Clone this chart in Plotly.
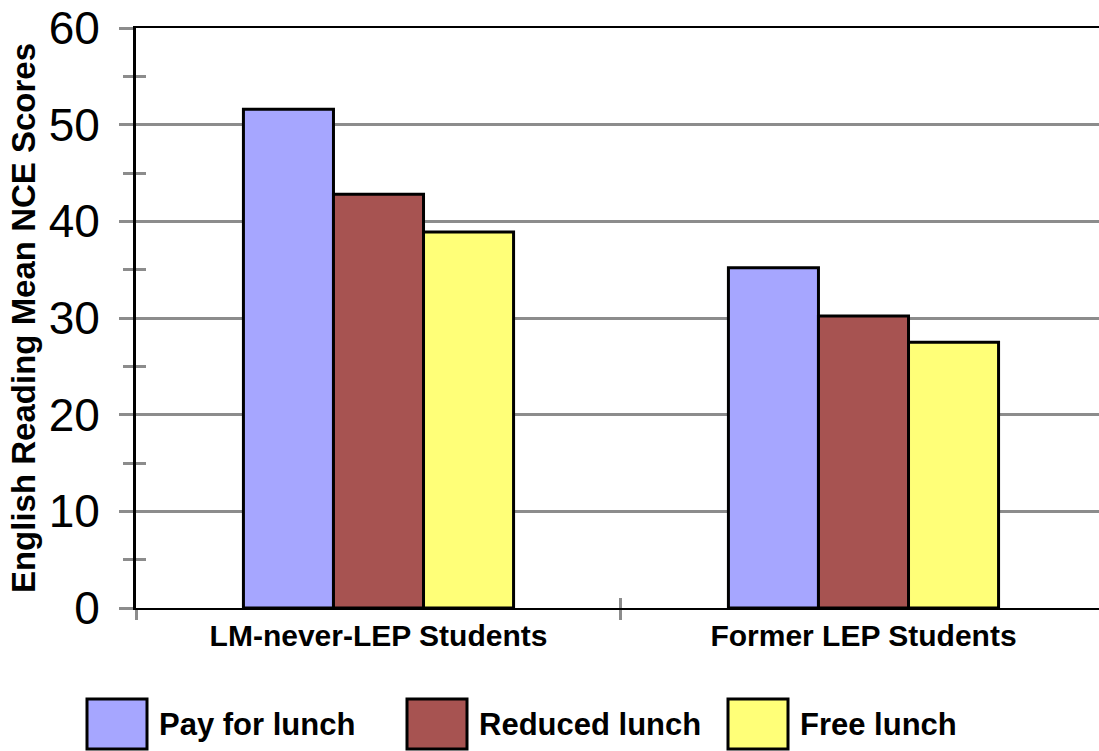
import plotly.graph_objects as go

grupper = ["LM-never-LEP Students", "Former LEP Students"]
serier = ["Pay for lunch", "Reduced lunch", "Free lunch"]
verdier_pay = [51.6, 35.2]
verdier_redusert = [42.8, 30.2]
verdier_gratis = [38.9, 27.5]
y_ticks = [0, 10, 20, 30, 40, 50, 60]

farger = ["#a6a6ff", "#a75351", "#ffff78"]
font_familie = "Liberation Sans, Arial, sans-serif"

fig = go.Figure()

for navn, verdier, farge in zip(serier, [verdier_pay, verdier_redusert, verdier_gratis], farger):
    fig.add_trace(
        go.Bar(
            x=grupper,
            y=verdier,
            name=navn,
            marker=dict(color=farge, line=dict(color="black", width=3)),
            showlegend=False,
        )
    )

# usynlig trace slik at overlay-aksene får ticks
fig.add_trace(
    go.Scatter(
        x=grupper, y=[0, 0], xaxis="x2", yaxis="y2",
        mode="none", showlegend=False, hoverinfo="skip",
    )
)

x_range = [-0.5, 1.4856]

fig.update_layout(
    width=1099,
    height=751,
    margin=dict(l=136, r=0, t=28, b=143, autoexpand=False),
    paper_bgcolor="white",
    plot_bgcolor="white",
    barmode="group",
    bargap=0.443,
    bargroupgap=0,
    font=dict(family=font_familie, color="black"),
    xaxis=dict(
        type="category",
        categoryarray=grupper,
        range=x_range,
        automargin=False,
        tickson="boundaries",
        ticks="outside",
        ticklen=10,
        tickwidth=3,
        tickcolor="#8c8c8c",
        showgrid=False,
        showline=True,
        linecolor="black",
        linewidth=2,
        mirror=True,
        tickfont=dict(size=30, weight="bold"),
    ),
    xaxis2=dict(
        type="category",
        categoryarray=grupper,
        range=x_range,
        overlaying="x",
        anchor="y",
        automargin=False,
        tickson="boundaries",
        ticks="inside",
        ticklen=10,
        tickwidth=3,
        tickcolor="#8c8c8c",
        showticklabels=False,
        showgrid=False,
        showline=False,
    ),
    yaxis=dict(
        range=[0, 60],
        tickvals=y_ticks,
        automargin=False,
        ticks="outside",
        ticklen=14,
        tickwidth=3,
        tickcolor="#8c8c8c",
        ticklabelstandoff=10,
        minor=dict(dtick=5, ticks="outside", ticklen=10, tickwidth=3, tickcolor="#8c8c8c", showgrid=False),
        showgrid=True,
        gridcolor="#8c8c8c",
        gridwidth=3,
        zeroline=False,
        showline=True,
        linecolor="black",
        linewidth=3,
        tickfont=dict(size=46),
        title=dict(
            text="English Reading Mean NCE Scores",
            font=dict(size=33, weight="bold"),
            standoff=4,
        ),
    ),
    yaxis2=dict(
        range=[0, 60],
        overlaying="y",
        anchor="x",
        side="left",
        automargin=False,
        dtick=5,
        ticks="inside",
        ticklen=10,
        tickwidth=3,
        tickcolor="#8c8c8c",
        showticklabels=False,
        showgrid=False,
        zeroline=False,
        showline=False,
    ),
)

# legende tegnet manuelt med store bokser
legende_x = [87, 407, 728]
for navn, farge, px in zip(serier, farger, legende_x):
    x0 = (px - 136) / 963
    x1 = (px + 60 - 136) / 963
    fig.add_shape(
        type="rect", xref="paper", yref="paper",
        x0=x0, x1=x1, y0=(608 - 749) / 580, y1=(608 - 699) / 580,
        fillcolor=farge, line=dict(color="black", width=3),
    )
    fig.add_annotation(
        xref="paper", yref="paper",
        x=(px + 70 - 136) / 963, y=(608 - 724) / 580,
        xanchor="left", yanchor="middle",
        text=navn, showarrow=False,
        font=dict(size=31, weight="bold", color="black"),
    )

fig.write_html(
    "out.html",
    config={"displayModeBar": False},
    post_script="document.body.style.margin='0';document.body.style.overflow='hidden';",
)
